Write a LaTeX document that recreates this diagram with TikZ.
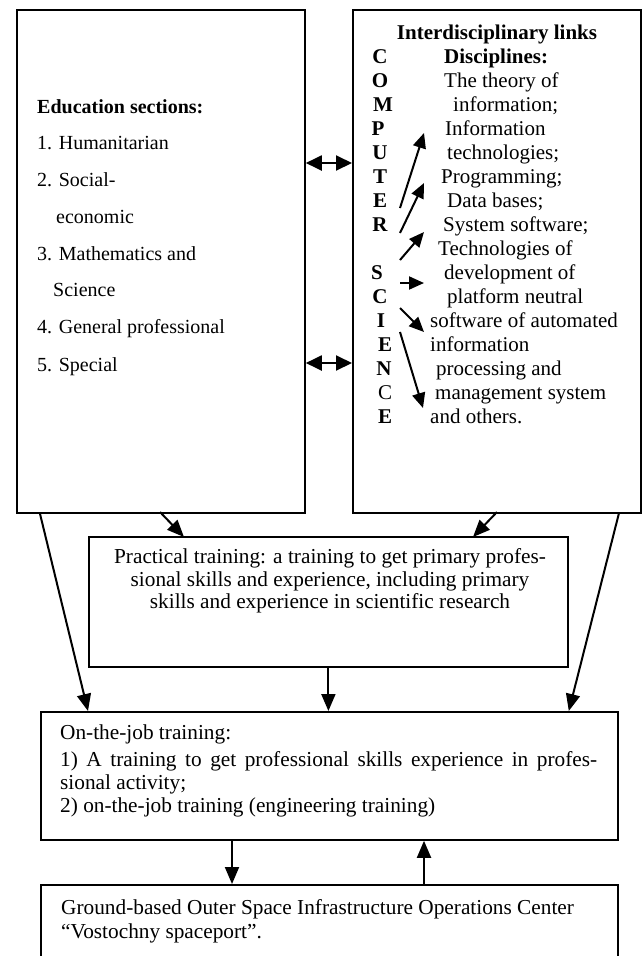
\documentclass[tikz,border=0pt]{standalone}
\usepackage{fontspec}
\setmainfont{Liberation Serif}
\usetikzlibrary{arrows.meta}

\tikzset{
  box/.style={draw, line width=1.8pt, rectangle, inner sep=0pt, anchor=north west},
  arr/.style={line width=2pt, -{Triangle[length=17pt,width=14pt]}},
  arrs/.style={line width=2pt, -{Triangle[length=15pt,width=13pt]}},
  dbl/.style={line width=2pt, {Triangle[length=16pt,width=15pt]}-{Triangle[length=16pt,width=15pt]}},
  txt/.style={anchor=base west, inner sep=0pt, font=\fontsize{21.3}{23}\selectfont},
  ltxt/.style={anchor=base west, inner sep=0pt, font=\fontsize{20}{23}\selectfont},
  rtxt/.style={anchor=base west, inner sep=0pt, font=\fontsize{21}{23}\selectfont},
  ctxt/.style={anchor=base, inner sep=0pt, font=\fontsize{21}{23}\selectfont}
}

\begin{document}
\begin{tikzpicture}[x=1pt,y=-1pt]
\useasboundingbox (0,0) rectangle (641,956);
\node[box, minimum width=288, minimum height=503] (edu) at (16,9) {};
\node[box, minimum width=288, minimum height=503] (ict) at (352,9) {};
\node[box, minimum width=479, minimum height=130] (prac) at (88,536) {};
\node[box, minimum width=577, minimum height=128] (job) at (40,711) {};
\node[box, minimum width=577, minimum height=100] (ground) at (40,884) {};
% education sections
\node[ltxt, font=\fontsize{20}{23}\selectfont\bfseries] (edu0) at (37,113) {Education sections:};
\node[ltxt] (edu1) at (37,149) {1. Humanitarian};
\node[ltxt] (edu2) at (37,186) {2. Social-};
\node[ltxt] (edu3) at (56,223) {economic};
\node[ltxt] (edu4) at (37,260) {3. Mathematics and};
\node[ltxt] (edu5) at (53,296) {Science};
\node[ltxt] (edu6) at (37,333) {4. General professional};
\node[ltxt] (edu7) at (37,371) {5. Special};
% interdisciplinary links
\node[ctxt, font=\fontsize{21}{23}\selectfont\bfseries] (links) at (497,39) {Interdisciplinary links};
\foreach \ch/\x/\i in {C/380/0,O/380/1,M/383/2,P/378/3,U/380/4,T/380/5,E/380/6,R/380/7,
                       S/377/9,C/380/10,I/381/11,E/385/12,N/384/13,E/385/15}
  \node[ctxt, font=\fontsize{21}{23}\selectfont\bfseries] (ch\i) at (\x,63+24*\i) {\ch};
\node[ctxt] (ch14) at (385,399) {C};
\node[rtxt, font=\fontsize{21}{23}\selectfont\bfseries] (dis0) at (444,63) {Disciplines:};
\node[rtxt] (dis1) at (444,87) {The theory of};
\node[rtxt] (dis2) at (453,111) {information;};
\node[rtxt] (dis3) at (445,135) {Information};
\node[rtxt] (dis4) at (447,159) {technologies;};
\node[rtxt] (dis5) at (441,183) {Programming;};
\node[rtxt] (dis6) at (447,207) {Data bases;};
\node[rtxt] (dis7) at (443,231) {System software;};
\node[rtxt] (dis8) at (438,255) {Technologies of};
\node[rtxt] (dis9) at (444,279) {development of};
\node[rtxt] (dis10) at (447,303) {platform neutral};
\node[rtxt] (dis11) at (430,327) {software of automated};
\node[rtxt] (dis12) at (430,351) {information};
\node[rtxt] (dis13) at (436,375) {processing and};
\node[rtxt] (dis14) at (435,399) {management system};
\node[rtxt] (dis15) at (430,423) {and others.};
% practical training
\node[align=center, inner sep=0pt, font=\fontsize{21.3}{22.5}\selectfont] (practxt) at (330,581)
  {Practical training: a training to get primary profes-\\sional skills and experience, including primary\\skills and experience in scientific research};
% on-the-job training
\node[txt] (job1) at (60,739) {On-the-job training:};
\node[txt] (job2) at (60,766) {\makebox[537pt][s]{1) A training to get professional skills experience in profes-}};
\node[txt] (job3) at (60,789) {sional activity;};
\node[txt] (job4) at (60,812) {2) on-the-job training (engineering training)};
% operations center
\node[txt] (gr1) at (61,914) {Ground-based Outer Space Infrastructure Operations Center};
\node[txt] (gr2) at (61,938) {“Vostochny spaceport”.};
% connectors
\draw[dbl] (edu.east |- 0,163) -- (ict.west |- 0,163);
\draw[dbl] (edu.east |- 0,363) -- (ict.west |- 0,363);
\coordinate (l1) at (400,208); \coordinate (r1) at (424,133);
\coordinate (l2) at (400,233); \coordinate (r2) at (424,183);
\coordinate (l3) at (400,260); \coordinate (r3) at (424,232);
\coordinate (l4) at (400,283); \coordinate (r4) at (424,283);
\coordinate (l5) at (400,308); \coordinate (r5) at (424,332);
\coordinate (l6) at (400,332); \coordinate (r6) at (423,408);
\foreach \i in {1,...,6}
  \draw[arrs] (l\i) -- (r\i);
\coordinate (p1) at (160,512); \coordinate (p2) at (184,537);
\coordinate (p3) at (497,512); \coordinate (p4) at (473,537);
\draw[arr] (p1) -- (p2);
\draw[arr] (p3) -- (p4);
\draw[arr] (edu.south -| job.west) -- (job.north -| prac.west);
\draw[arr] (ict.south -| job.east) -- (job.north -| prac.east);
\draw[arr] (prac.south) -- (prac.south |- job.north);
\draw[arr] (job.south -| 232,0) -- (ground.north -| 232,0);
\draw[arr] (ground.north -| 424,0) -- (job.south -| 424,0);
\end{tikzpicture}
\end{document}
